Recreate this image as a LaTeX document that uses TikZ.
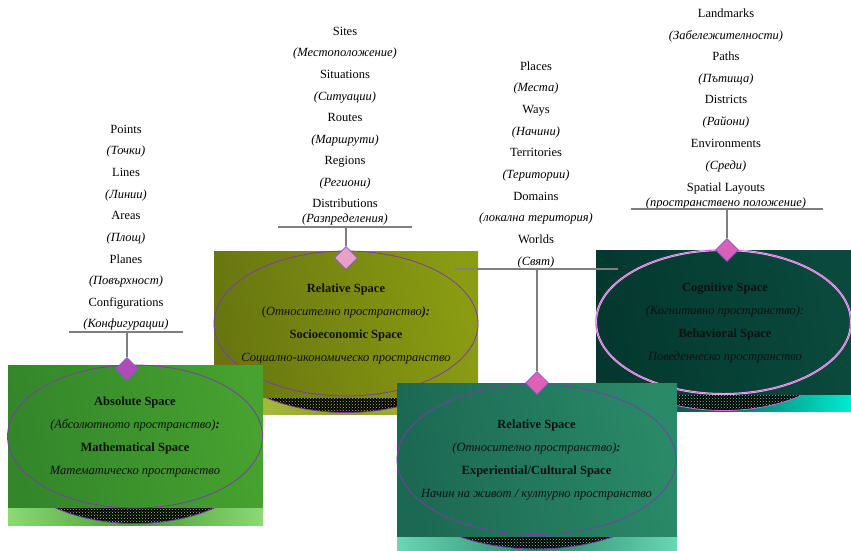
\documentclass[tikz,border=0pt]{standalone}
\usepackage{fontspec}
\setmainfont{Liberation Serif}
\usetikzlibrary{patterns,shapes.geometric}
\definecolor{barGray}{HTML}{7F7F7F}
\definecolor{ringPurple}{HTML}{7A3CA8}
\definecolor{ringPink}{HTML}{E060E8}
\definecolor{txtDark}{HTML}{101010}
\definecolor{bOneA}{HTML}{33862A}
\definecolor{bOneB}{HTML}{47A22F}
\definecolor{sOneL}{HTML}{8CDA74}
\definecolor{sOneM}{HTML}{4A9A3A}
\definecolor{bTwoA}{HTML}{687610}
\definecolor{bTwoB}{HTML}{8A9C12}
\definecolor{sTwoL}{HTML}{B6CA46}
\definecolor{sTwoM}{HTML}{8C9E22}
\definecolor{bThrA}{HTML}{1C6852}
\definecolor{bThrB}{HTML}{2A8A68}
\definecolor{sThrL}{HTML}{6AD6B4}
\definecolor{sThrM}{HTML}{2A8A6A}
\definecolor{bFouA}{HTML}{04382E}
\definecolor{bFouB}{HTML}{0A4A3C}
\definecolor{sFouL}{HTML}{063C32}
\definecolor{sFouM}{HTML}{06705E}
\definecolor{sFouR}{HTML}{00ECD0}
\definecolor{dOne}{HTML}{B04CB8}
\definecolor{dTwo}{HTML}{E8A0C8}
\definecolor{dThr}{HTML}{E060B8}
\definecolor{dFou}{HTML}{D860B8}
\definecolor{dBorder}{HTML}{8458C8}
\begin{document}
\begin{tikzpicture}[x=1pt,y=-1pt,
  lbl/.style={font=\fontsize{12.5}{14}\selectfont, text height=8.5pt, text depth=2.5pt, inner sep=0pt},
  ilbl/.style={lbl, font=\fontsize{12.5}{14}\selectfont\itshape},
  bar/.style={draw=barGray, line width=1.2pt},
  dia/.style={diamond, aspect=1, minimum width=23pt, minimum height=23pt, inner sep=0pt, draw=dBorder, line width=0.8pt},
  ring/.style={draw=ringPurple, line width=0.8pt},
  boxtext/.style={align=center, text=txtDark, font=\fontsize{12.5}{22.8}\selectfont, inner sep=0pt},
]
\useasboundingbox (0,0) rectangle (851,550);
\fill[white] (0,0) rectangle (851,550);

% ---------- Box 2 (olive, socioeconomic) ----------
\shade[left color=bTwoA, right color=bTwoB, shading angle=100] (214,251) rectangle (478,398);
\shade[left color=sTwoL, right color=sTwoL, middle color=sTwoM] (214,398) rectangle (478,414);
\begin{scope}
  \clip (214,398) rectangle (478,414);
  \fill[black] (346,340) ellipse [x radius=132, y radius=72.5];
  \fill[pattern=crosshatch dots, pattern color=sTwoL] (346,340) ellipse [x radius=132, y radius=72.5];
  \draw[ring] (346,340) ellipse [x radius=132, y radius=72.5];
\end{scope}
\draw[ring] (346,323.5) ellipse [x radius=132, y radius=72.5];
\node[boxtext] (t2) at (346,324) {\textbf{Relative Space}\\(\textit{Относително пространство}\textbf{\textit{):}}\\\textbf{Socioeconomic Space}\\\textit{Социално-икономическо пространство}};

% ---------- Box 4 (dark, cognitive) ----------
\shade[left color=bFouA, right color=bFouB, shading angle=100] (596,250) rectangle (851,395);
\shade[left color=sFouL, right color=sFouR, middle color=sFouM] (596,395) rectangle (851,411);
\begin{scope}
  \clip (596,395) rectangle (851,411);
  \fill[black] (723.5,338) ellipse [x radius=127.5, y radius=72.5];
  \fill[pattern=crosshatch dots, pattern color=sThrL] (723.5,338) ellipse [x radius=127.5, y radius=72.5];
  \draw[draw=ringPink, line width=0.8pt] (723.5,338) ellipse [x radius=127.5, y radius=72.5];
\end{scope}
\draw[draw=ringPink!40, line width=2pt] (723.5,322) ellipse [x radius=127.5, y radius=72];
\draw[draw=ringPink, line width=0.8pt] (723.5,322) ellipse [x radius=127.5, y radius=72];
\node[boxtext] (t4) at (725,323) {\textbf{Cognitive Space}\\\textit{(Когнитивно пространство):}\\\textbf{Behavioral Space}\\\textit{Поведенческо пространство}};

% ---------- Box 1 (green, absolute) ----------
\shade[left color=bOneA, right color=bOneB, shading angle=100] (8,365) rectangle (263,508);
\shade[left color=sOneL, right color=sOneL, middle color=sOneM] (8,508) rectangle (263,525);
\begin{scope}
  \clip (8,508) rectangle (263,525);
  \fill[black] (135,452) ellipse [x radius=127.5, y radius=71.5];
  \fill[pattern=crosshatch dots, pattern color=sOneL] (135,452) ellipse [x radius=127.5, y radius=71.5];
  \draw[ring] (135,452) ellipse [x radius=127.5, y radius=71.5];
\end{scope}
\draw[ring] (135,436.5) ellipse [x radius=127.5, y radius=71.5];
\node[boxtext] (t1) at (135,437) {\textbf{Absolute Space}\\\textit{(Абсолютното пространство)\textbf{:}}\\\textbf{Mathematical Space}\\\textit{Математическо пространство}};

% ---------- Box 3 (teal, experiential) ----------
\shade[left color=bThrA, right color=bThrB, shading angle=100] (397,383) rectangle (677,537);
\shade[left color=sThrL, right color=sThrL, middle color=sThrM] (397,537) rectangle (677,550);
\begin{scope}
  \clip (397,537) rectangle (677,550);
  \fill[black] (536.5,474) ellipse [x radius=139.5, y radius=75];
  \fill[pattern=crosshatch dots, pattern color=sThrL] (536.5,474) ellipse [x radius=139.5, y radius=75];
  \draw[ring] (536.5,474) ellipse [x radius=139.5, y radius=75];
\end{scope}
\draw[ring] (536.5,459.5) ellipse [x radius=139.5, y radius=75];
\node[boxtext] (t3) at (536.5,460) {\textbf{Relative Space}\\\textit{(Относително пространство)\textbf{:}}\\\textbf{Experiential/Cultural Space}\\\textit{Начин на живот / културно пространство}};

% ---------- Lists ----------
\foreach \n/\y/\s/\t in {a/130/lbl/Points, b/151/ilbl/(Точки), c/173/lbl/Lines, d/195/ilbl/(Линии), e/216/lbl/Areas, f/238/ilbl/(Площ), g/260/lbl/Planes, h/281/ilbl/(Повърхност), i/303/lbl/Configurations, j/324/ilbl/(Конфигурации)}
  \node[\s] (la\n) at (126,\y) {\t};
\foreach \n/\y/\s/\t in {a/32/lbl/Sites, b/53/ilbl/(Местоположение), c/75/lbl/Situations, d/97/ilbl/(Ситуации), e/118/lbl/Routes, f/140/ilbl/(Маршрути), g/161/lbl/Regions, h/183/ilbl/(Региони), i/204/lbl/Distributions, j/219/ilbl/(Разпределения)}
  \node[\s] (lb\n) at (345,\y) {\t};
\foreach \n/\y/\s/\t in {a/67/lbl/Places, b/88/ilbl/(Места), c/110/lbl/Ways, d/132/ilbl/(Начини), e/153/lbl/Territories, f/175/ilbl/(Територии), g/197/lbl/Domains, h/218/ilbl/(локална територия), i/240/lbl/Worlds, j/262/ilbl/(Свят)}
  \node[\s] (lc\n) at (536,\y) {\t};
\foreach \n/\y/\s/\t in {a/14/lbl/Landmarks, b/36/ilbl/(Забележителности), c/57/lbl/Paths, d/79/ilbl/(Пътища), e/100/lbl/Districts, f/122/ilbl/(Райони), g/144/lbl/Environments, h/166/ilbl/(Среди), i/188/lbl/Spatial Layouts, j/203/ilbl/(пространствено положение)}
  \node[\s] (ld\n) at (726,\y) {\t};

% ---------- Bars and connectors ----------
\coordinate (a1) at (69,332); \coordinate (a2) at (183,332); \coordinate (am) at (127,332);
\coordinate (b1) at (278,227); \coordinate (b2) at (412,227); \coordinate (bm) at (346,227);
\coordinate (c1) at (455,269); \coordinate (c2) at (618,269); \coordinate (cm) at (537,269);
\coordinate (e1) at (631,209); \coordinate (e2) at (823,209); \coordinate (em) at (727,209);

\node[dia, fill=dOne] (d1) at (127,369) {};
\node[dia, fill=dTwo] (d2) at (346,258) {};
\node[dia, fill=dThr] (d3) at (537,383) {};
\node[dia, fill=dFou] (d4) at (727,250) {};

\draw[bar] (a1) -- (a2); \draw[bar] (am) -- (d1.north);
\draw[bar] (b1) -- (b2); \draw[bar] (bm) -- (d2.north);
\draw[bar] (c1) -- (c2); \draw[bar] (cm) -- (d3.north);
\draw[bar] (e1) -- (e2); \draw[bar] (em) -- (d4.north);
\end{tikzpicture}
\end{document}
